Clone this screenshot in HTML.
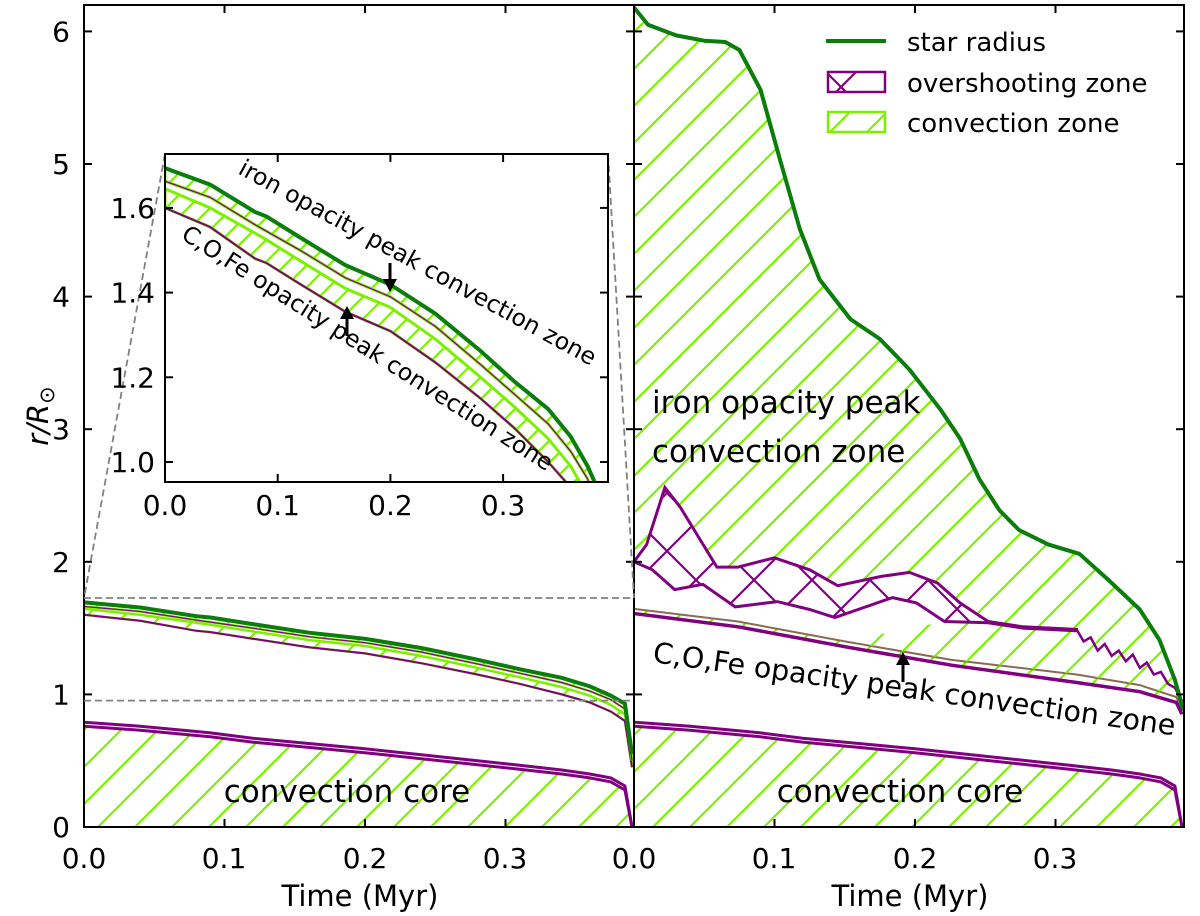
<!DOCTYPE html>
<html><head><meta charset="utf-8"><style>
html,body{margin:0;padding:0;background:#fff;}
svg{display:block;font-family:"DejaVu Sans","Liberation Sans",sans-serif;}
</style></head><body>
<svg id="chart" width="1200" height="916" viewBox="0 0 1200 916" xmlns="http://www.w3.org/2000/svg">
<defs>
<pattern id="hatch" patternUnits="userSpaceOnUse" width="37" height="37"><path d="M-5,42 L42,-5 M-5,5 L5,-5 M32,42 L42,32" stroke="#7cf000" stroke-width="2.2"/></pattern>
<pattern id="hatchS" patternUnits="userSpaceOnUse" width="22" height="22"><path d="M-3,25 L25,-3 M-3,3 L3,-3 M19,25 L25,19" stroke="#7cf000" stroke-width="2.2"/></pattern>
<pattern id="xhatch" patternUnits="userSpaceOnUse" width="58" height="58"><path d="M-5,63 L63,-5 M-5,-5 L63,63 M-5,5 L5,-5 M53,63 L63,53 M53,-5 L63,5 M-5,53 L5,63" stroke="#800080" stroke-width="2.2"/></pattern>
<clipPath id="clipL"><rect x="84" y="5" width="550" height="822"/></clipPath>
<clipPath id="clipR"><rect x="634" y="5" width="550" height="822"/></clipPath>
<clipPath id="clipI"><rect x="165" y="154" width="443" height="328"/></clipPath>
</defs>
<g id="left" clip-path="url(#clipL)"></g>
<g id="right" clip-path="url(#clipR)"></g>
<g id="axes"></g>
<rect x="165" y="154" width="443" height="328" fill="#fff"/>
<g id="inset" clip-path="url(#clipI)"></g>
<g id="iaxes"></g>
<g id="texts">
<text x="652" y="413" font-size="31">iron opacity peak</text>
<text x="652" y="462" font-size="31">convection zone</text>
<text x="652" y="662" font-size="28.5" transform="rotate(8 652 662)">C,O,Fe opacity peak convection zone</text>
<text x="347" y="802" font-size="31" text-anchor="middle">convection core</text>
<text x="900" y="802" font-size="31" text-anchor="middle">convection core</text>
<text x="237" y="173" font-size="23.5" transform="rotate(28.6 237 173)">iron opacity peak convection zone</text>
<text x="180" y="238" font-size="23.5" transform="rotate(32.5 180 238)">C,O,Fe opacity peak convection zone</text>
<g><line x1="390" y1="263" x2="390" y2="280" stroke="#000" stroke-width="3"/><path d="M383,279 L397,279 L390,292 Z" fill="#000"/></g>
<g><line x1="347" y1="336" x2="347" y2="318" stroke="#000" stroke-width="3"/><path d="M340,319 L354,319 L347,306 Z" fill="#000"/></g>
<g><line x1="903" y1="682" x2="903" y2="664" stroke="#000" stroke-width="3"/><path d="M896,665 L910,665 L903,652 Z" fill="#000"/></g>
<text x="84" y="868" font-size="28" text-anchor="middle">0.0</text>
<text x="224" y="868" font-size="28" text-anchor="middle">0.1</text>
<text x="365" y="868" font-size="28" text-anchor="middle">0.2</text>
<text x="505" y="868" font-size="28" text-anchor="middle">0.3</text>
<text x="634" y="868" font-size="28" text-anchor="middle">0.0</text>
<text x="774" y="868" font-size="28" text-anchor="middle">0.1</text>
<text x="915" y="868" font-size="28" text-anchor="middle">0.2</text>
<text x="1055" y="868" font-size="28" text-anchor="middle">0.3</text>
<text x="360" y="906" font-size="29" text-anchor="middle">Time (Myr)</text>
<text x="910" y="906" font-size="29" text-anchor="middle">Time (Myr)</text>
<text x="48" y="416" font-size="29" font-style="italic" text-anchor="middle" transform="rotate(-90 48 416)">r/R<tspan font-style="normal" font-size="21" dy="6">⊙</tspan></text>
</g>
<g id="legend">
<g><line x1="826" y1="41" x2="886" y2="41" stroke="#0a7d0a" stroke-width="4"/><text x="907" y="51" font-size="26">star radius</text></g>
<g><rect x="828" y="72" width="57" height="20" fill="url(#xhatch)" stroke="#800080" stroke-width="2.5"/><text x="907" y="92" font-size="26">overshooting zone</text></g>
<g><rect x="828" y="112" width="57" height="20" fill="url(#hatch)" stroke="#7cf000" stroke-width="2.5"/><text x="907" y="132" font-size="26">convection zone</text></g>
</g>
</svg>
<script>
// Left panel / inset data (time in Myr, radius in R_sun)
const tL = [0,0.04,0.08,0.09,0.12,0.16,0.2,0.24,0.28,0.31,0.34,0.36,0.375,0.385,0.39];
const starL = [1.694,1.655,1.59,1.58,1.53,1.465,1.419,1.35,1.262,1.19,1.125,1.06,0.99,0.93,0.55];
const ironBotL = [1.663,1.625,1.56,1.545,1.5,1.435,1.39,1.32,1.23,1.16,1.09,1.025,0.96,0.89,0.5];
const cofeTopL = [1.645,1.6,1.54,1.525,1.475,1.41,1.365,1.29,1.2,1.13,1.055,0.99,0.92,0.85,0.48];
const cofeBotL = [1.6,1.555,1.48,1.47,1.42,1.355,1.309,1.235,1.15,1.08,1.0,0.94,0.87,0.8,0.45];
const coreTop = [0.79,0.76,0.72,0.71,0.67,0.63,0.59,0.545,0.5,0.465,0.43,0.4,0.37,0.31,0.0];
const coreIn = [0.76,0.73,0.69,0.68,0.64,0.60,0.56,0.515,0.47,0.435,0.40,0.37,0.34,0.28,0.0];
// Right panel data
const tStarR = [0,0.01,0.03,0.05,0.065,0.075,0.09,0.104,0.118,0.132,0.154,0.175,0.196,0.218,0.232,0.246,0.26,0.274,0.295,0.317,0.338,0.36,0.374,0.385,0.391];
const starR = [6.18,6.05,5.97,5.93,5.92,5.86,5.56,5.03,4.51,4.13,3.83,3.68,3.45,3.15,2.93,2.62,2.39,2.24,2.13,2.06,1.86,1.64,1.41,1.11,0.88];
const tOvTop = [0,0.009,0.022,0.033,0.059,0.074,0.1,0.125,0.145,0.176,0.196,0.216,0.232,0.252,0.277,0.315];
const ovTop = [2.0,2.13,2.56,2.41,1.96,1.96,2.03,1.94,1.82,1.89,1.92,1.84,1.69,1.55,1.51,1.49];
const tOvBot = [0,0.013,0.029,0.049,0.072,0.102,0.125,0.143,0.184,0.201,0.221,0.252,0.277,0.315];
const ovBot = [2.0,1.94,1.79,1.83,1.66,1.70,1.64,1.58,1.73,1.69,1.55,1.54,1.50,1.48];
const tTail = [0.315,0.32,0.325,0.33,0.335,0.34,0.345,0.35,0.355,0.36,0.365,0.37,0.375,0.38,0.385,0.39];
const tail = [1.49,1.40,1.43,1.33,1.38,1.29,1.33,1.25,1.30,1.20,1.24,1.15,1.17,1.08,1.05,0.95];
const tCofeR = [0,0.074,0.15,0.226,0.315,0.36,0.386,0.39];
const cofeLowR = [1.61,1.51,1.36,1.22,1.09,1.02,0.94,0.85];
const cofeUpR = [1.645,1.55,1.40,1.26,1.15,1.07,0.98,0.88];
const yTicks = [0,1,2,3,4,5,6];
const insetYTicks = [1.0,1.2,1.4,1.6];
const xTicks = [0.1,0.2,0.3];

const NS='http://www.w3.org/2000/svg';
const xL=t=>84+t*1405, xR=t=>634+t*1405, yM=r=>827-r*132.6;
const xI=t=>165+t*1127, yI=r=>462-(r-1)*423.5;
function mk(tag,attrs,parent){const e=document.createElementNS(NS,tag);for(const k in attrs)e.setAttribute(k,attrs[k]);parent.appendChild(e);return e;}
function pts(ts,vs,fx,fy){return ts.map((t,i)=>fx(t).toFixed(1)+','+fy(vs[i]).toFixed(1));}
function line(ts,vs,fx,fy){return 'M'+pts(ts,vs,fx,fy).join(' L');}
function band(t1,v1,t2,v2,fx,fy){return 'M'+pts(t1,v1,fx,fy).join(' L')+' L'+pts(t2,v2,fx,fy).reverse().join(' L')+' Z';}
const gL=document.getElementById('left'),gR=document.getElementById('right'),gI=document.getElementById('inset');
const gA=document.getElementById('axes'),gIA=document.getElementById('iaxes');

function drawLeft(g,fx,fy,sw,pat){
  const z0=tL.map(()=>0);
  let e=mk('path',{d:band(tL,coreIn,tL,z0,fx,fy),fill:'url(#'+pat+')',stroke:'none'},g);
  
  
  e=mk('path',{d:line(tL,coreTop,fx,fy),fill:'none',stroke:'#800080','stroke-width':3},g);
  
  
  e=mk('path',{d:line(tL,coreIn,fx,fy),fill:'none',stroke:'#800080','stroke-width':3},g);
  
  
  e=mk('path',{d:band(tL,cofeTopL,tL,cofeBotL,fx,fy),fill:'url(#'+pat+')',stroke:'#7cf000','stroke-width':sw},g);
  
  
  e=mk('path',{d:line(tL,cofeBotL,fx,fy),fill:'none',stroke:'#800080','stroke-width':2},g);
  
  
  e=mk('path',{d:band(tL,starL,tL,ironBotL,fx,fy),fill:'url(#'+pat+')',stroke:'#7cf000','stroke-width':sw},g);
  
  
  e=mk('path',{d:line(tL,ironBotL,fx,fy),fill:'none',stroke:'#800080','stroke-width':1.2},g);
  
  
  e=mk('path',{d:line(tL,starL,fx,fy),fill:'none',stroke:'#0a7d0a','stroke-width':4},g);
  
  
}
drawLeft(gL,xL,yM,2.5,'hatch');
drawLeft(gI,xI,yI,3,'hatchS');

// Right panel
(function(){
  const z0=tL.map(()=>0);
  let e=mk('path',{d:band(tL,coreIn,tL,z0,xR,yM),fill:'url(#hatch)'},gR);
  
  
  e=mk('path',{d:line(tL,coreTop,xR,yM),fill:'none',stroke:'#800080','stroke-width':3},gR);
  
  
  e=mk('path',{d:line(tL,coreIn,xR,yM),fill:'none',stroke:'#800080','stroke-width':3},gR);
  
  
  e=mk('path',{d:band(tCofeR,cofeUpR,tCofeR,cofeLowR,xR,yM),fill:'url(#hatch)'},gR);
  
  
  e=mk('path',{d:line(tCofeR,cofeUpR,xR,yM),fill:'none',stroke:'#8a6a50','stroke-width':2},gR);
  
  
  e=mk('path',{d:line(tCofeR,cofeLowR,xR,yM),fill:'none',stroke:'#800080','stroke-width':3.5},gR);
  
  
  const bt=tOvTop.concat(tTail.slice(1)), bv=ovTop.concat(tail.slice(1));
  e=mk('path',{d:band(tStarR,starR,bt,bv,xR,yM),fill:'url(#hatch)'},gR);
  
  
  const i0=tOvBot.indexOf(0.221);
  const lt=tOvBot.slice(i0).concat(tTail.slice(1)), lv=ovBot.slice(i0).concat(tail.slice(1));
  e=mk('path',{d:band(lt,lv,tCofeR.slice(2),cofeUpR.slice(2),xR,yM),fill:'url(#hatch)'},gR);
  
  
  e=mk('path',{d:band(tOvTop,ovTop,tOvBot,ovBot,xR,yM),fill:'url(#xhatch)',stroke:'#800080','stroke-width':3},gR);
  
  
  e=mk('path',{d:line(tTail,tail,xR,yM),fill:'none',stroke:'#800080','stroke-width':2.5},gR);
  
  
  e=mk('path',{d:line(tStarR,starR,xR,yM),fill:'none',stroke:'#0a7d0a','stroke-width':4,'stroke-linejoin':'round'},gR);
  
  
})();

function frame(g,x0,y0,w,h,name){const e=mk('rect',{x:x0,y:y0,width:w,height:h,fill:'none',stroke:'#000','stroke-width':2},g);}
frame(gA,84,5,550,822,'left-panel-frame');
frame(gA,634,5,550,822,'right-panel-frame');
yTicks.forEach(v=>{
  const y=yM(v);
  mk('line',{x1:84,y1:y,x2:92,y2:y,stroke:'#000','stroke-width':2},gA);
  mk('line',{x1:626,y1:y,x2:642,y2:y,stroke:'#000','stroke-width':2},gA);
  mk('line',{x1:1176,y1:y,x2:1184,y2:y,stroke:'#000','stroke-width':2},gA);
  const t=mk('text',{x:70,y:y+10,'font-size':28,'text-anchor':'end'},gA);
  t.textContent=String(v);
  
  
});
xTicks.forEach(v=>{
  [xL(v),xR(v)].forEach(x=>{
    mk('line',{x1:x,y1:827,x2:x,y2:819,stroke:'#000','stroke-width':2},gA);
    mk('line',{x1:x,y1:5,x2:x,y2:13,stroke:'#000','stroke-width':2},gA);
  });
});
[[84,yM(1.727),634,yM(1.727)],[84,yM(0.953),634,yM(0.953)],[165,154,84,yM(1.727)],[608,154,634,yM(1.727)]].forEach(a=>{
  const e=mk('line',{x1:a[0],y1:a[1],x2:a[2],y2:a[3],stroke:'#808080','stroke-width':1.8,'stroke-dasharray':'7,4'},gA);
  
  
});
frame(gIA,165,154,443,328,'inset-frame');
insetYTicks.forEach(v=>{
  const y=yI(v);
  mk('line',{x1:165,y1:y,x2:173,y2:y,stroke:'#000','stroke-width':2},gIA);
  mk('line',{x1:600,y1:y,x2:608,y2:y,stroke:'#000','stroke-width':2},gIA);
  const t=mk('text',{x:155,y:y+10,'font-size':28,'text-anchor':'end'},gIA);
  t.textContent=v.toFixed(1);
  
  
});
[0].concat(xTicks).forEach(v=>{
  const x=xI(v);
  mk('line',{x1:x,y1:482,x2:x,y2:474,stroke:'#000','stroke-width':2},gIA);
  mk('line',{x1:x,y1:154,x2:x,y2:162,stroke:'#000','stroke-width':2},gIA);
  const t=mk('text',{x:x,y:515,'font-size':28,'text-anchor':'middle'},gIA);
  t.textContent=v.toFixed(1);
  
  
});
</script>
</body></html>
